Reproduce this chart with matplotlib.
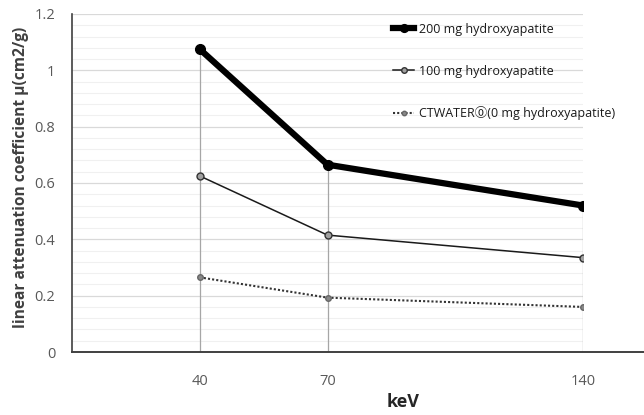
import numpy as np
import matplotlib.pyplot as plt
from matplotlib.patches import Rectangle

kev = [40, 70, 140]
mu_200 = [1.075, 0.665, 0.52]
mu_100 = [0.625, 0.415, 0.335]
mu_water = [0.265, 0.193, 0.16]
labels = ["200 mg hydroxyapatite", "100 mg hydroxyapatite",
          "CTWATER\u24ea(0 mg hydroxyapatite)"]

plt.rcParams['font.family'] = ['Open Sans', 'DejaVu Sans', 'Noto Sans CJK SC']

# the x axis in the original is spaced oddly (40-70 is half of 70-140)
_src = [10, 40, 70, 140, 210]
_dst = [0, 1, 2, 4, 6]


def fwd(x):
    return np.interp(x, _src, _dst)


def inv(x):
    return np.interp(x, _dst, _src)


fig = plt.figure(figsize=(6.44, 4.15), dpi=100)
ax = fig.add_axes([0.1118, 0.1518, 0.7935, 0.8145])
ax.set_xscale('function', functions=(fwd, inv))
ax.set_xlim(10, 140)
ax.set_ylim(0, 1.2)

ax.set_yticks(np.arange(0, 1.21, 0.2))
ax.set_yticklabels(['0', '0.2', '0.4', '0.6', '0.8', '1', '1.2'])
ax.set_yticks(np.arange(0, 1.2, 0.04), minor=True)
ax.grid(axis='y', which='major', color='#d9d9d9', lw=0.9)
ax.grid(axis='y', which='minor', color='#f0f0f0', lw=0.8)
ax.set_xticks(kev)
ax.set_xticklabels([str(k) for k in kev])
ax.xaxis.set_minor_locator(plt.NullLocator())
ax.tick_params(axis='both', which='both', length=0, labelsize=10.5,
               labelcolor='#595959')
ax.tick_params(axis='x', pad=16)
ax.tick_params(axis='y', pad=12)

for s in ['top', 'right', 'bottom']:
    ax.spines[s].set_visible(False)
ax.spines['left'].set_color('#404040')
ax.spines['left'].set_linewidth(1.2)
ax.axhline(0, xmin=0, xmax=1.12, color='#404040', lw=1.4, clip_on=False,
           zorder=3)

# drop lines
tops = np.max([mu_200, mu_100, mu_water], axis=0)
ax.vlines(kev, -0.008, tops, color='#a6a6a6', lw=0.9, zorder=2)

# white legend area covering the grid
ax.add_patch(Rectangle((0.577, 0.553), 0.6, 0.5, transform=ax.transAxes,
                       facecolor='white', edgecolor='none', clip_on=False,
                       zorder=1.5))

l1, = ax.plot(kev, mu_200, color='black', lw=4.5, marker='o', ms=7,
              zorder=4)
l2, = ax.plot(kev, mu_100, color='#1a1a1a', lw=1.1, marker='o', ms=5,
              mfc='#a0a0a0', mec='#333333', mew=1, zorder=4)
l3, = ax.plot(kev, mu_water, color='#333333', lw=1.5, ls=(0, (1, 1)),
              marker='o', ms=4, mfc='#888888', mec='#666666', zorder=4)

fig.legend([l1, l2, l3], labels, loc='upper left',
           bbox_to_anchor=(0.593, 0.972), frameon=False, fontsize=9,
           labelspacing=2.3, handlelength=1.7, handletextpad=0.4,
           labelcolor='#1a1a1a', markerscale=0.8)

ax.set_ylabel('linear attenuation coefficient \u03bc(cm2/g)', fontsize=11.2,
              fontweight='bold', color='#404040')
ax.yaxis.set_label_coords(-0.085, 0.518)
ax.set_xlabel('keV', fontsize=13, fontweight='bold', color='#262626')
ax.xaxis.set_label_coords(0.648, -0.12)

fig.savefig('out.png', dpi=100)
